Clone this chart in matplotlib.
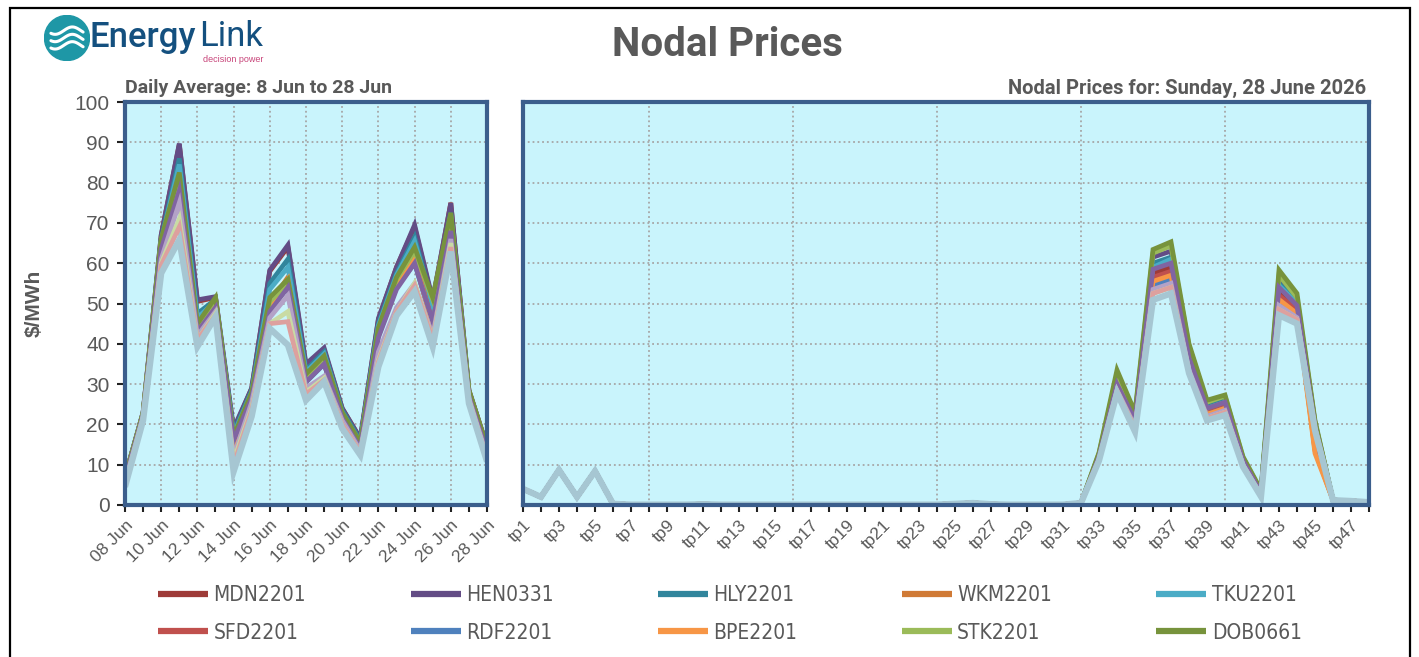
import matplotlib
matplotlib.use("Agg")
import matplotlib.pyplot as plt
from matplotlib.patches import Rectangle, Circle
import numpy as np

# ---- data -------------------------------------------------------------
days = ['08 Jun', '09 Jun', '10 Jun', '11 Jun', '12 Jun', '13 Jun', '14 Jun',
        '15 Jun', '16 Jun', '17 Jun', '18 Jun', '19 Jun', '20 Jun', '21 Jun',
        '22 Jun', '23 Jun', '24 Jun', '25 Jun', '26 Jun', '27 Jun', '28 Jun']
periods = ['tp%d' % i for i in range(1, 49)]

nodes = ['MDN2201', 'HEN0331', 'HLY2201', 'WKM2201', 'TKU2201',
         'SFD2201', 'RDF2201', 'BPE2201', 'STK2201', 'DOB0661',
         'OTH1', 'OTH2', 'OTH3', 'OTH4', 'OTH5']
colors = ['#9E3B38', '#634C85', '#31859C', '#D07A36', '#4BACC6',
          '#C0504D', '#4F81BD', '#F79646', '#9BBB59', '#77933C',
          '#8064A2', '#B3A2C7', '#C9DBA4', '#DDA09E', '#A6C6D2']

# daily averages, 8 Jun .. 28 Jun
daily = {
    'MDN2201': [7, 23, 67, 89.5, 50.5, 51.5, 18.5, 29, 58, 64, 34.5, 38.5, 24, 16.5, 46, 59, 69, 50.5, 75, 28.5, 14.5],
    'HEN0331': [7, 23, 67, 89.7, 50.9, 51.7, 19, 29, 58.3, 64.5, 35, 39, 24, 16.5, 46.3, 59, 69.5, 51, 74.9, 28.5, 14.5],
    'HLY2201': [6.8, 22.8, 66, 86, 47.5, 51, 18, 28.5, 55, 61, 33.5, 38, 23.5, 16, 45, 57.5, 66.5, 50, 72.5, 28, 14],
    'WKM2201': [6.5, 22.5, 65, 80, 44, 50, 15, 27, 50, 56.5, 31.5, 36, 22.5, 15, 43, 55, 62, 46, 70, 27.5, 13.5],
    'TKU2201': [6.7, 22.7, 65.5, 84.5, 46.5, 50.5, 17.5, 28, 53.5, 59, 33, 37.5, 23, 15.5, 44.5, 57, 65.5, 49.5, 72, 28, 14],
    'SFD2201': [6.4, 22.4, 64.5, 79, 43.5, 49.5, 15, 26.5, 49, 55, 31, 35, 22, 14.5, 42.5, 54.5, 60.5, 45, 69, 27.5, 13.5],
    'RDF2201': [6.3, 22.3, 64, 78, 43, 49, 15.5, 26.5, 48.5, 54, 30.5, 35, 22, 14.5, 42, 54, 60, 45, 68.5, 27, 13],
    'BPE2201': [6.5, 22.5, 64.5, 79, 43.5, 49.5, 13.5, 26.5, 49.5, 56, 31, 35.5, 22, 14.5, 42.5, 54.5, 61, 44.5, 69, 27.5, 13.5],
    'STK2201': [6.7, 22.7, 65.5, 81, 44.5, 51, 16.5, 27.5, 50.5, 55, 32, 36.5, 22.5, 15, 43.5, 56, 63, 51, 71.5, 28, 14],
    'DOB0661': [6.8, 22.8, 66, 82.5, 45, 51.5, 17, 28, 51.5, 56, 32.5, 37, 23, 15.5, 44, 56.5, 64, 51.5, 72.5, 28.5, 14.5],
    'OTH1': [6.2, 22.2, 63.5, 78, 43, 49, 16, 26.5, 48, 54, 30.5, 35, 21.5, 14, 41.5, 53.5, 60, 45.5, 68, 27, 13],
    'OTH2': [5.5, 22, 61, 75, 42, 48, 12, 25.5, 46.5, 52, 29, 32, 21, 13.5, 38, 49, 55, 42, 66, 26.5, 12],
    'OTH3': [5, 21.5, 60, 71, 41, 47.5, 11, 24, 45, 48, 28, 31.5, 20, 13, 36, 48, 55, 41, 65, 26, 11.5],
    'OTH4': [5, 21.5, 59.5, 69, 41, 47, 10, 23.5, 45, 45.5, 27.5, 31, 20, 13, 35.5, 48, 54.5, 41, 64, 25.5, 11.5],
    'OTH5': [4.5, 21, 57.5, 65.8, 39.3, 46.7, 8.3, 22, 43.8, 39.7, 26, 30.6, 19, 12.4, 34.3, 47, 53, 39.3, 62.9, 25.2, 10.8],
}

# trading periods on 28 June: tp1..tp32 and tp46..tp48 are near-identical at every node
night = [4, 2, 8.7, 2, 8.4, 0.3, 0.1, 0.1, 0.1, 0.1, 0.2, 0.1, 0.1, 0.1, 0.1, 0.1,
         0.1, 0.1, 0.1, 0.1, 0.1, 0.1, 0.1, 0.1, 0.3, 0.5, 0.2, 0.1, 0.1, 0.1, 0.1, 0.5]
tail = [1.2, 1.0, 0.7]
# tp33..tp45
peak = {
    'MDN2201': [12, 29.8, 20.8, 57.5, 59, 36, 23.5, 25, 10.8, 2.9, 53, 49, 19],
    'HEN0331': [12.5, 31.5, 22, 61.5, 63, 38.5, 25, 26.5, 11.5, 3.3, 56, 51, 20.5],
    'HLY2201': [12.3, 31, 21.5, 60, 61.5, 37.5, 24.5, 26, 11.3, 3.2, 55, 50.5, 20],
    'WKM2201': [11.8, 29.5, 20.5, 56, 57.5, 35, 23, 24.5, 10.5, 2.8, 51.5, 48, 13.5],
    'TKU2201': [12.2, 30.5, 21, 59, 61, 37, 24, 25.5, 11, 3, 54.5, 50, 20],
    'SFD2201': [11.8, 29.5, 20.5, 56.5, 58, 35.5, 23, 24.5, 10.5, 2.8, 52, 48.5, 14],
    'RDF2201': [11.6, 28.8, 20, 54.5, 56, 34, 22.5, 24, 10.2, 2.6, 50.5, 47, 19],
    'BPE2201': [11.7, 29, 20, 55.5, 57, 34.5, 22.5, 24, 10.3, 2.7, 51, 47.5, 12.8],
    'STK2201': [12.8, 32.5, 22.5, 62.5, 64.3, 39.5, 25.5, 27, 11.8, 3.5, 57, 51.5, 20.5],
    'DOB0661': [13, 33.5, 23, 63.4, 65.3, 40, 26, 27.3, 12, 3.7, 58.3, 52.5, 21],
    'OTH1': [12, 30, 21, 58.5, 60, 36.5, 24, 25.5, 11, 3, 54, 49.5, 19.5],
    'OTH2': [11.3, 28.5, 19.5, 53.5, 55, 33.5, 22, 23.5, 10, 2.5, 49.5, 46.5, 19],
    'OTH3': [11.2, 28.2, 19, 52.5, 54, 33, 21.5, 23, 9.8, 2.3, 48.5, 46, 19],
    'OTH4': [11.2, 28.2, 19, 52.5, 54, 33, 21.5, 23, 9.8, 2.3, 48.5, 46, 18.5],
    'OTH5': [11, 27.8, 18.2, 50.9, 52.5, 32.7, 21, 22.3, 9.5, 2.1, 47.1, 45, 18.5],
}

yticks = list(range(0, 101, 10))

# ---- style -------------------------------------------------------------
W, H = 1419, 657
txt = '#595959'
frame = '#3B5E8C'
bg = '#C9F4FC'
sans = ['Liberation Sans', 'DejaVu Sans']
head = ['Roboto', 'DejaVu Sans']

fig = plt.figure(figsize=(W / 100, H / 100), dpi=100)


def px(x0, y0, x1, y1):
    return [x0 / W, 1 - y1 / H, (x1 - x0) / W, (y1 - y0) / H]


def style(ax, n, labels, grid_x):
    ax.set_facecolor(bg)
    ax.set_ylim(0, 100)
    ax.set_xlim(0, n - 1)
    ax.set_yticks(yticks)
    for s in ax.spines.values():
        s.set_color(frame)
        s.set_linewidth(3)
    ax.grid(axis='y', color='#A6A6A6', linestyle=':', linewidth=1.3)
    for g in grid_x:
        ax.axvline(g, color='#A6A6A6', linestyle=':', linewidth=1.3, zorder=0.5)
    ax.set_axisbelow(True)
    ax.set_xticks(range(n))
    ax.set_xticklabels([l if i % 2 == 0 else '' for i, l in enumerate(labels)],
                       rotation=45, ha='right', rotation_mode='anchor',
                       family=sans, fontsize=12.5, color=txt)
    ax.tick_params(axis='x', length=5, width=1.5, color='#222222', pad=4)


axl = fig.add_axes(px(125, 102, 487, 505))
axr = fig.add_axes(px(523, 102, 1369, 505))

style(axl, len(days), days, range(2, 19, 2))
style(axr, len(periods), periods, [7, 15, 23, 31, 39])

axl.set_yticklabels([str(v) for v in yticks], family=sans, fontsize=15, color=txt)
axl.tick_params(axis='y', length=6, width=1.5, color='#222222', pad=5)
axr.tick_params(axis='y', length=0, labelleft=False)

lines = {}
for name, c in zip(nodes, colors):
    lw = 4.5 if name == 'OTH5' else 3.4
    ln, = axl.plot(range(len(days)), daily[name], color=c, lw=lw,
                   solid_joinstyle='miter', solid_capstyle='butt')
    axr.plot(range(len(periods)), night + peak[name] + tail, color=c, lw=lw,
             solid_joinstyle='miter', solid_capstyle='butt')
    lines[name] = ln

axl.set_ylabel('$/MWh', family=sans, fontsize=15, fontweight='bold', color=txt, labelpad=22)

# ---- titles ------------------------------------------------------------
fig.text(727 / W, 1 - 45 / H, 'Nodal Prices', ha='center', va='center',
         family=head, fontsize=29, fontweight='bold', color=txt)
fig.text(125 / W, 1 - 88 / H, 'Daily Average: 8 Jun to 28 Jun', ha='left', va='center',
         family=head, fontsize=14, fontweight='bold', color=txt)
fig.text(1366 / W, 1 - 88 / H, 'Nodal Prices for: Sunday, 28 June 2026', ha='right', va='center',
         family=head, fontsize=14.5, fontweight='bold', color=txt)

# ---- logo --------------------------------------------------------------
lg = fig.add_axes(px(44, 15, 90, 61))
lg.set_xlim(-1, 1)
lg.set_ylim(-1, 1)
lg.set_aspect('equal')
lg.axis('off')
lg.add_patch(Circle((0, 0), 0.98, color='#1E97A6'))
t = np.linspace(-0.7, 0.7, 60)
for off in (-0.32, 0.0, 0.32):
    lg.plot(t, off + 0.16 * np.sin(4.2 * t + 0.6), color='white', lw=2.2, solid_capstyle='round')
fig.text(90 / W, 1 - 37 / H, 'Energy', ha='left', va='center', family=head,
         fontsize=25, fontweight='medium', color='#14507F')
fig.text(199 / W, 1 - 37 / H, 'Link', ha='left', va='center', family=head,
         fontsize=25, color='#14507F')
fig.text(233 / W, 1 - 60 / H, 'decision power', ha='center', va='center', family=sans,
         fontsize=6.5, color='#C8457A')

# ---- legend ------------------------------------------------------------
order = ['MDN2201', 'SFD2201', 'HEN0331', 'RDF2201', 'HLY2201',
         'BPE2201', 'WKM2201', 'STK2201', 'TKU2201', 'DOB0661']
leg = fig.legend([lines[n] for n in order], order, ncol=5, mode='expand',
                 bbox_to_anchor=(150 / W, 1 - 651 / H, 1160 / W, 70 / H),
                 loc='lower left', frameon=False, handlelength=2.4,
                 handletextpad=0.25, labelspacing=0.85, borderaxespad=0,
                 prop={'family': 'DejaVu Sans', 'stretch': 'condensed', 'size': 15})
for t_ in leg.get_texts():
    t_.set_color(txt)
for h in leg.legend_handles:
    h.set_linewidth(4.5)

# outer border
fig.patches.append(Rectangle((10 / W, -0.02), 1400 / W, 1 - 8 / H + 0.02,
                             transform=fig.transFigure, fill=False,
                             edgecolor='black', linewidth=1.6))

fig.savefig('out.png', dpi=100)
